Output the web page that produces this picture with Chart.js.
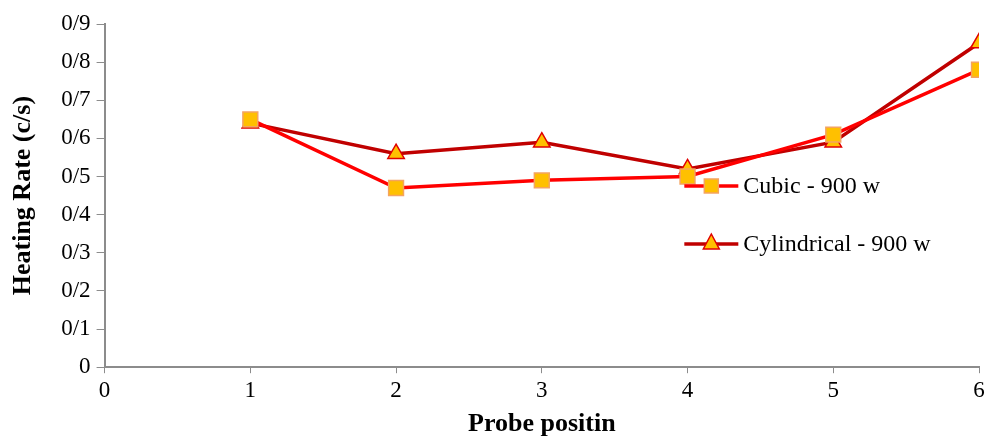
<!DOCTYPE html>
<html>
<head>
<meta charset="utf-8">
<script src="https://cdn.jsdelivr.net/npm/chart.js@4/dist/chart.umd.min.js"></script>
<style>
  html, body { margin: 0; padding: 0; background: #fff; overflow: hidden; }
  #wrap { width: 991px; height: 436px; }
</style>
</head>
<body>
<div id="wrap"><canvas id="c"></canvas></div>
<script>
// probe positions and heating rates
var positions = [1, 2, 3, 4, 5, 6];
var cubic = [0.65, 0.47, 0.49, 0.50, 0.61, 0.78];
var cylindrical = [0.64, 0.56, 0.59, 0.52, 0.59, 0.85];
var seriesNames = ['Cubic - 900 w', 'Cylindrical - 900 w'];
var yTickLabels = ['0', '0/1', '0/2', '0/3', '0/4', '0/5', '0/6', '0/7', '0/8', '0/9'];
var xTickLabels = ['0', '1', '2', '3', '4', '5', '6'];

var serif = "'Liberation Serif', 'Times New Roman', serif";

function pts(vals) {
  return vals.map(function (v, i) { return { x: positions[i], y: v }; });
}

// legend drawn inside the plot, like the original
var insideLegend = {
  id: 'insideLegend',
  afterDraw: function (chart) {
    var ctx = chart.ctx, a = chart.chartArea;
    var x0 = a.left + (a.right - a.left) * 0.663;
    var rows = [a.top + (a.bottom - a.top) * 0.472, a.top + (a.bottom - a.top) * 0.641];
    chart.data.datasets.forEach(function (ds, i) {
      var y = rows[i];
      ctx.save();
      ctx.strokeStyle = ds.borderColor;
      ctx.lineWidth = ds.borderWidth;
      ctx.beginPath();
      ctx.moveTo(x0, y);
      ctx.lineTo(x0 + 54, y);
      ctx.stroke();
      var cx = x0 + 27;
      ctx.fillStyle = ds.pointBackgroundColor;
      ctx.strokeStyle = ds.pointBorderColor;
      ctx.lineWidth = 1.5;
      if (ds.pointStyle === 'rect') {
        ctx.fillRect(cx - 7, y - 7, 14, 14);
        ctx.strokeRect(cx - 7, y - 7, 14, 14);
      } else {
        ctx.beginPath();
        ctx.moveTo(cx, y - 10);
        ctx.lineTo(cx + 8, y + 5);
        ctx.lineTo(cx - 8, y + 5);
        ctx.closePath();
        ctx.fill();
        ctx.stroke();
      }
      ctx.fillStyle = '#000';
      ctx.font = "24px " + serif;
      ctx.textBaseline = 'middle';
      ctx.fillText(ds.label, x0 + 59, y + 1);
      ctx.restore();
    });
  }
};

new Chart(document.getElementById('c'), {
  type: 'line',
  data: {
    datasets: [
      {
        label: seriesNames[0],
        data: pts(cubic),
        borderColor: '#FF0000',
        borderWidth: 3.5,
        pointStyle: 'rect',
        pointRadius: 10.5,
        pointBackgroundColor: '#FFC000',
        pointBorderColor: '#F4A460',
        pointBorderWidth: 1.5,
        tension: 0
      },
      {
        label: seriesNames[1],
        data: pts(cylindrical),
        borderColor: '#C00000',
        borderWidth: 3.5,
        pointStyle: 'triangle',
        pointRadius: 9.5,
        pointBackgroundColor: '#FFC000',
        pointBorderColor: '#E00000',
        pointBorderWidth: 1.5,
        tension: 0
      }
    ]
  },
  options: {
    responsive: true,
    maintainAspectRatio: false,
    animation: false,
    layout: { padding: { top: 24, right: 1, left: 8, bottom: -4 } },
    plugins: {
      legend: { display: false },
      tooltip: { enabled: false }
    },
    scales: {
      x: {
        type: 'linear',
        min: 0,
        max: 6,
        border: { color: '#8c8c8c', width: 2 },
        grid: { drawOnChartArea: false, drawTicks: true, tickLength: 6, color: '#8c8c8c', lineWidth: 1 },
        ticks: {
          stepSize: 1,
          color: '#000',
          font: { family: serif, size: 23 },
          padding: 4,
          callback: function (v) { return xTickLabels[Math.round(v)]; }
        },
        title: {
          display: true,
          text: 'Probe positin',
          color: '#000',
          font: { family: serif, size: 26, weight: 'bold' },
          padding: { top: 0, bottom: 0 }
        }
      },
      y: {
        min: 0,
        max: 0.9,
        border: { color: '#8c8c8c', width: 2 },
        grid: { drawOnChartArea: false, drawTicks: true, tickLength: 8, color: '#8c8c8c', lineWidth: 1 },
        ticks: {
          stepSize: 0.1,
          color: '#000',
          font: { family: serif, size: 23 },
          padding: 6,
          callback: function (v) { return yTickLabels[Math.round(v * 10)]; }
        },
        title: {
          display: true,
          text: 'Heating Rate (c/s)',
          color: '#000',
          font: { family: serif, size: 26, weight: 'bold' },
          padding: { top: 0, bottom: 16 }
        }
      }
    }
  },
  plugins: [insideLegend]
});
</script>
</body>
</html>
